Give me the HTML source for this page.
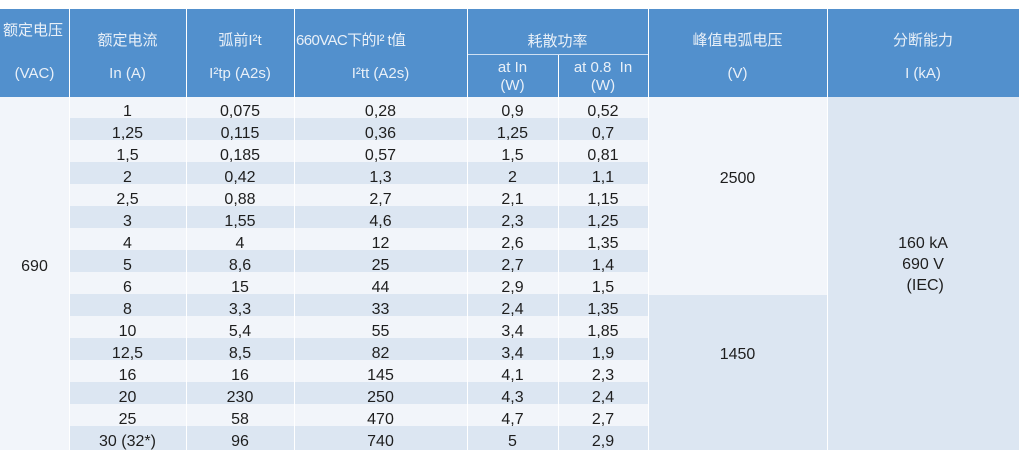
<!DOCTYPE html>
<html><head><meta charset="utf-8"><style>
body{margin:0;background:#fff;width:1025px;height:454px;overflow:hidden;font-family:"Liberation Sans","Noto Sans CJK SC",sans-serif;position:relative}
div{position:absolute}
.h{background:#5290CD;top:9px;height:88px}
.t{color:#e9f0f8;font-size:15px;text-align:center;line-height:18px;white-space:nowrap}
.r{left:69px;width:579px;height:22px}
.a{background:#F2F5FA}.b{background:#DCE6F2}
.v{width:1px;background:#fff}
.c{font-size:16px;color:#1e1e1e;text-align:center;line-height:22px;white-space:nowrap}
</style></head><body>
<div class="h" style="left:0;width:1019px"></div>
<div style="left:467px;top:54px;width:181px;height:1px;background:#cfe0f2"></div>
<div class="t" style="left:0;top:22px;width:69px;text-align:left;left:3px">额定电压</div>
<div class="t" style="left:0;top:65px;width:69px">(VAC)</div>
<div class="t" style="left:69px;top:32px;width:117px">额定电流</div>
<div class="t" style="left:69px;top:65px;width:117px">In (A)</div>
<div class="t" style="left:186px;top:32px;width:108px">弧前I²t</div>
<div class="t" style="left:186px;top:65px;width:108px">I²tp (A2s)</div>
<div class="t" style="left:296px;top:32px;text-align:left;letter-spacing:-0.6px">660VAC下的I² t值</div>
<div class="t" style="left:294px;top:65px;width:173px">I²tt (A2s)</div>
<div class="t" style="left:467px;top:33px;width:181px">耗散功率</div>
<div class="t" style="left:467px;top:59px;width:91px">at In<br>(W)</div>
<div class="t" style="left:558px;top:59px;width:90px">at 0.8&nbsp; In<br>(W)</div>
<div class="t" style="left:648px;top:32px;width:179px">峰值电弧电压</div>
<div class="t" style="left:648px;top:65px;width:179px">(V)</div>
<div class="t" style="left:827px;top:32px;width:192px">分断能力</div>
<div class="t" style="left:827px;top:65px;width:192px">I (kA)</div>
<div class="a" style="left:0;top:97px;width:69px;height:353px"></div>
<div class="a" style="left:648px;top:97px;width:179px;height:198px"></div>
<div class="b" style="left:648px;top:295px;width:179px;height:155px"></div>
<div class="b" style="left:827px;top:97px;width:192px;height:353px"></div>
<div class="r a" style="top:97px;height:21px"></div>
<div class="r b" style="top:118px"></div><div class="r a" style="top:140px"></div>
<div class="r b" style="top:162px"></div><div class="r a" style="top:184px"></div>
<div class="r b" style="top:206px"></div><div class="r a" style="top:228px"></div>
<div class="r b" style="top:250px"></div><div class="r a" style="top:272px"></div>
<div class="r b" style="top:294px"></div><div class="r a" style="top:316px"></div>
<div class="r b" style="top:338px"></div><div class="r a" style="top:360px"></div>
<div class="r b" style="top:382px"></div><div class="r a" style="top:404px"></div>
<div class="r b" style="top:426px;height:24px"></div>
<div class="v" style="left:69px;top:9px;height:441px"></div>
<div class="v" style="left:186px;top:9px;height:441px"></div>
<div class="v" style="left:294px;top:9px;height:441px"></div>
<div class="v" style="left:467px;top:9px;height:441px"></div>
<div class="v" style="left:558px;top:55px;height:395px"></div>
<div class="v" style="left:648px;top:9px;height:441px"></div>
<div class="v" style="left:827px;top:9px;height:441px"></div>
<div class="c" style="left:0;top:256px;width:69px">690</div>
<div class="c" style="left:648px;top:168px;width:179px">2500</div>
<div class="c" style="left:648px;top:344px;width:179px">1450</div>
<div class="c" style="left:827px;top:233px;width:192px;line-height:21px">160 kA<br>690 V<br>&nbsp;(IEC)</div>
<div class="c" style="left:69px;top:101px;width:117px">1<br>1,25<br>1,5<br>2<br>2,5<br>3<br>4<br>5<br>6<br>8<br>10<br>12,5<br>16<br>20<br>25<br>30 (32*)</div>
<div class="c" style="left:186px;top:101px;width:108px">0,075<br>0,115<br>0,185<br>0,42<br>0,88<br>1,55<br>4<br>8,6<br>15<br>3,3<br>5,4<br>8,5<br>16<br>230<br>58<br>96</div>
<div class="c" style="left:294px;top:101px;width:173px">0,28<br>0,36<br>0,57<br>1,3<br>2,7<br>4,6<br>12<br>25<br>44<br>33<br>55<br>82<br>145<br>250<br>470<br>740</div>
<div class="c" style="left:467px;top:101px;width:91px">0,9<br>1,25<br>1,5<br>2<br>2,1<br>2,3<br>2,6<br>2,7<br>2,9<br>2,4<br>3,4<br>3,4<br>4,1<br>4,3<br>4,7<br>5</div>
<div class="c" style="left:558px;top:101px;width:90px">0,52<br>0,7<br>0,81<br>1,1<br>1,15<br>1,25<br>1,35<br>1,4<br>1,5<br>1,35<br>1,85<br>1,9<br>2,3<br>2,4<br>2,7<br>2,9</div>
</body></html>
